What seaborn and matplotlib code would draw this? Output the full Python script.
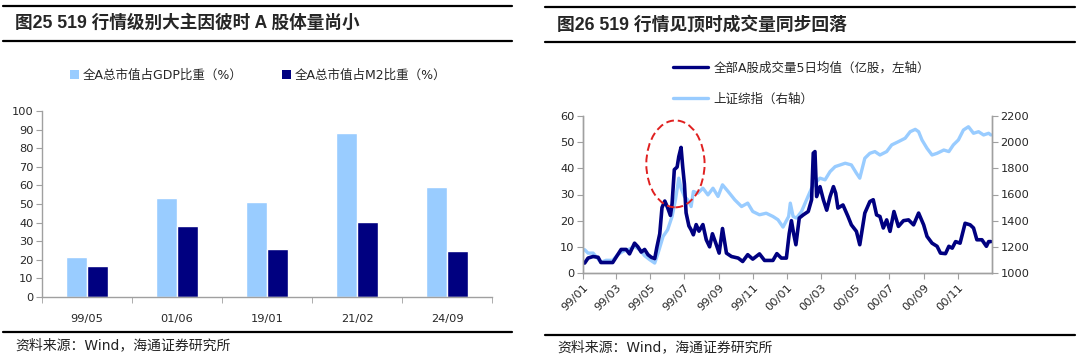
import matplotlib
matplotlib.use("Agg")
import matplotlib.pyplot as plt
import matplotlib.dates as mdates
from matplotlib.lines import Line2D
from matplotlib.patches import Patch, Ellipse
import seaborn as sns
import pandas as pd

# ---------------- data: left chart ----------------
bar_categories = ["99/05", "01/06", "19/01", "21/02", "24/09"]
gdp_ratio = [21.5, 53.3, 51.2, 88.3, 59.2]
m2_ratio = [16.9, 38.4, 25.7, 40.4, 24.6]
bar_series_names = ["全A总市值占GDP比重（%）", "全A总市值占M2比重（%）"]

# ---------------- data: right chart ----------------
vol_dates = [
    "1999-01-04", "1999-01-10", "1999-01-19", "1999-01-28", "1999-02-02", "1999-02-11", "1999-02-23",
    "1999-03-01", "1999-03-10", "1999-03-19", "1999-03-25", "1999-04-03", "1999-04-09", "1999-04-15",
    "1999-04-21", "1999-04-27", "1999-05-03", "1999-05-09", "1999-05-13", "1999-05-18", "1999-05-22",
    "1999-05-27", "1999-06-01", "1999-06-06", "1999-06-09", "1999-06-13", "1999-06-18", "1999-06-21",
    "1999-06-25", "1999-06-28", "1999-07-01", "1999-07-04", "1999-07-09", "1999-07-13", "1999-07-17",
    "1999-07-22", "1999-07-27", "1999-08-03", "1999-08-09", "1999-08-15", "1999-08-20", "1999-08-26",
    "1999-09-01", "1999-09-07", "1999-09-14", "1999-09-23", "1999-10-05", "1999-10-13", "1999-10-22",
    "1999-10-31", "1999-11-12", "1999-11-21", "1999-12-06", "1999-12-13", "1999-12-21", "1999-12-30",
    "2000-01-04", "2000-01-08", "2000-01-12", "2000-01-16", "2000-01-22", "2000-01-29", "2000-02-07",
    "2000-02-13", "2000-02-16", "2000-02-19", "2000-02-22", "2000-02-28", "2000-03-05", "2000-03-11",
    "2000-03-17", "2000-03-23", "2000-03-27", "2000-03-31", "2000-04-09", "2000-04-18", "2000-04-24",
    "2000-05-03", "2000-05-09", "2000-05-18", "2000-05-27", "2000-06-02", "2000-06-08", "2000-06-14",
    "2000-06-20", "2000-06-26", "2000-07-02", "2000-07-09", "2000-07-17", "2000-07-26", "2000-08-04",
    "2000-08-13", "2000-08-22", "2000-08-31", "2000-09-06", "2000-09-15", "2000-09-24", "2000-09-30",
    "2000-10-09", "2000-10-15", "2000-10-21", "2000-10-27", "2000-11-04", "2000-11-13", "2000-11-22",
    "2000-11-28", "2000-12-04", "2000-12-13", "2000-12-21", "2000-12-25", "2000-12-29",
]
vol_values = [
    3.8, 5.7, 6.3, 6.0, 4.0, 4.0, 4.0,
    6.0, 9.0, 9.0, 7.3, 11.4, 10.0, 8.0,
    9.0, 7.0, 6.0, 5.5, 10.0, 15.0, 25.0,
    27.5, 25.0, 22.0, 26.5, 39.5, 40.5, 44.5,
    48.0, 40.5, 34.0, 23.0, 18.0, 16.5, 14.6,
    18.5, 16.0, 18.5, 12.7, 10.0, 15.0, 11.4,
    7.6, 17.0, 7.6, 6.3, 5.7, 4.4, 7.0,
    5.3, 7.3, 4.8, 4.8, 7.4, 5.7, 5.7,
    15.0, 20.0, 15.0, 10.8, 21.0, 22.2, 23.5,
    28.0, 45.8, 46.4, 29.2, 33.0, 28.0, 24.0,
    29.2, 33.0, 30.5, 24.8, 26.0, 21.6, 18.4,
    15.9, 10.8, 22.9, 27.3, 28.0, 22.2, 21.6,
    17.2, 20.3, 15.9, 23.5, 17.8, 20.0, 20.3,
    18.4, 22.9, 18.4, 14.0, 11.4, 10.2, 7.6,
    7.4, 10.2, 9.5, 12.0, 11.4, 19.0, 18.4,
    17.2, 12.7, 12.7, 10.2, 12.0, 12.0,
]

idx_dates = [
    "1999-01-04", "1999-01-10", "1999-01-19", "1999-01-28", "1999-02-02", "1999-02-11", "1999-02-23",
    "1999-03-04", "1999-03-13", "1999-03-25", "1999-04-03", "1999-04-12", "1999-04-21", "1999-04-30",
    "1999-05-09", "1999-05-15", "1999-05-24", "1999-06-01", "1999-06-09", "1999-06-15", "1999-06-21",
    "1999-06-25", "1999-07-01", "1999-07-07", "1999-07-13", "1999-07-17", "1999-07-25", "1999-08-03",
    "1999-08-12", "1999-08-21", "1999-08-30", "1999-09-07", "1999-09-17", "1999-09-29", "1999-10-11",
    "1999-10-22", "1999-10-31", "1999-11-12", "1999-11-24", "1999-12-06", "1999-12-15", "1999-12-24",
    "2000-01-03", "2000-01-06", "2000-01-11", "2000-01-17", "2000-01-26", "2000-02-04", "2000-02-13",
    "2000-02-19", "2000-02-28", "2000-03-08", "2000-03-17", "2000-03-26", "2000-04-04", "2000-04-13",
    "2000-04-24", "2000-05-03", "2000-05-09", "2000-05-18", "2000-05-27", "2000-06-05", "2000-06-14",
    "2000-06-26", "2000-07-05", "2000-07-17", "2000-07-29", "2000-08-07", "2000-08-16", "2000-08-22",
    "2000-08-28", "2000-09-06", "2000-09-15", "2000-09-24", "2000-10-06", "2000-10-15", "2000-10-23",
    "2000-11-01", "2000-11-10", "2000-11-19", "2000-11-28", "2000-12-07", "2000-12-16", "2000-12-25",
    "2000-12-29",
]
idx_values = [
    1178, 1152, 1152, 1107, 1081, 1097, 1097,
    1140, 1165, 1183, 1203, 1178, 1132, 1102,
    1076, 1152, 1280, 1330, 1432, 1559, 1725,
    1648, 1585, 1559, 1508, 1623, 1610, 1648,
    1597, 1648, 1585, 1674, 1623, 1559, 1508,
    1534, 1470, 1445, 1457, 1432, 1407, 1351,
    1432, 1534, 1432, 1420, 1470, 1559, 1648,
    1686, 1725, 1712, 1775, 1813, 1826, 1839,
    1826, 1763, 1725, 1877, 1915, 1928, 1902,
    1928, 1979, 2004, 2030, 2080, 2098, 2080,
    2017, 1953, 1902, 1915, 1940, 1928, 1979,
    2017, 2093, 2118, 2068, 2080, 2055, 2068,
    2055,
]
line_names = ["全部A股成交量5日均值（亿股，左轴）", "上证综指（右轴）"]
left_ticks = [0, 10, 20, 30, 40, 50, 60]
right_ticks = [1000, 1200, 1400, 1600, 1800, 2000, 2200]

titles = ["图25 519 行情级别大主因彼时 A 股体量尚小", "图26 519 行情见顶时成交量同步回落"]
source = "资料来源：Wind，海通证券研究所"

# ---------------- style ----------------
sns.set_style("white")
plt.rcParams["font.family"] = ["DejaVu Sans", "Noto Sans CJK SC"]
plt.rcParams["axes.unicode_minus"] = False
TITLE_FONT = ["Liberation Sans", "Noto Sans CJK SC"]

LIGHT = "#99ccff"
DARK = "#000080"
GRAY = "#a0a0a0"
TICK_FS = 8.2

fig = plt.figure(figsize=(10.8, 3.6), dpi=100)
W, H = 1080.0, 360.0

def fx(px):
    return px / W

def fy(py):
    return 1 - py / H

def hrule(x0, x1, y, lw=1.6):
    fig.add_artist(Line2D([fx(x0), fx(x1)], [fy(y), fy(y)], transform=fig.transFigure,
                          color="black", lw=lw))

# ---------------- left chart ----------------
axL = fig.add_axes([fx(42), fy(297), fx(492) - fx(42), fy(111) - fy(297)])
df_bar = pd.DataFrame({
    "cat": bar_categories * 2,
    "val": gdp_ratio + m2_ratio,
    "series": [bar_series_names[0]] * len(bar_categories) + [bar_series_names[1]] * len(bar_categories),
})
sns.barplot(data=df_bar, x="cat", y="val", hue="series", palette=[LIGHT, DARK],
            width=0.475, ax=axL, legend=False, saturation=1)
axL.set_xlim(-0.5, len(bar_categories) - 0.5)
axL.set_ylim(0, 100)
axL.set_yticks(range(0, 101, 10))
axL.set_xlabel("")
axL.set_ylabel("")
axL.set_xticks([i + 0.5 for i in range(-1, len(bar_categories))], minor=True)
axL.tick_params(axis="x", which="major", length=0, labelsize=TICK_FS, pad=12)
axL.tick_params(axis="x", which="minor", length=4, color=GRAY, direction="out", bottom=True)
axL.tick_params(axis="y", length=4, color=GRAY, direction="out", left=True, labelsize=TICK_FS, pad=2)
for s in ["top", "right"]:
    axL.spines[s].set_visible(False)
for s in ["left", "bottom"]:
    axL.spines[s].set_color(GRAY)
    axL.spines[s].set_linewidth(1)

handlesL = [Patch(facecolor=LIGHT, edgecolor="none"), Patch(facecolor=DARK, edgecolor="none")]
fig.legend(handlesL, bar_series_names, loc="center", bbox_to_anchor=(fx(258), fy(75)),
           ncol=2, frameon=False, fontsize=9, handlelength=0.7, handleheight=0.7,
           handletextpad=0.3, columnspacing=3.2)

# ---------------- right chart ----------------
axR = fig.add_axes([fx(583), fy(273), fx(992) - fx(583), fy(116) - fy(273)])
axR2 = axR.twinx()
df_vol = pd.DataFrame({"date": pd.to_datetime(vol_dates), "val": vol_values})
df_idx = pd.DataFrame({"date": pd.to_datetime(idx_dates), "val": idx_values})
sns.lineplot(data=df_idx, x="date", y="val", ax=axR2, color=LIGHT, lw=2.4)
sns.lineplot(data=df_vol, x="date", y="val", ax=axR, color=DARK, lw=2.6)
axR.set_zorder(axR2.get_zorder() + 1)
axR.patch.set_visible(False)

xmin, xmax = pd.Timestamp("1999-01-01"), pd.Timestamp("2000-12-31")
axR.set_xlim(xmin, xmax)
axR.set_ylim(0, 60)
axR.set_yticks(left_ticks)
axR2.set_ylim(1000, 2200)
axR2.set_yticks(right_ticks)
for a in (axR, axR2):
    a.set_xlabel("")
    a.set_ylabel("")
axR.xaxis.set_major_locator(mdates.MonthLocator(bymonth=[1, 3, 5, 7, 9, 11]))
axR.xaxis.set_major_formatter(mdates.DateFormatter("%y/%m"))
plt.setp(axR.get_xticklabels(), rotation=45, ha="right", rotation_mode="anchor")
axR.tick_params(axis="x", length=4, color=GRAY, direction="out", bottom=True, labelsize=TICK_FS, pad=3)
axR.tick_params(axis="y", length=4, color=GRAY, direction="out", left=True, labelsize=TICK_FS, pad=2)
axR2.tick_params(axis="y", length=4, color=GRAY, direction="out", right=True, labelsize=TICK_FS, pad=2)
for a in (axR, axR2):
    a.spines["top"].set_visible(False)
    for s in ["left", "right", "bottom"]:
        a.spines[s].set_color(GRAY)
        a.spines[s].set_linewidth(1)

ell = Ellipse((mdates.date2num(pd.Timestamp("1999-06-15")), 41.7), width=104, height=33.2,
              fill=False, edgecolor="#e02020", ls=(0, (4, 2)), lw=1.4, zorder=5)
axR.add_patch(ell)

handlesR = [Line2D([], [], color=DARK, lw=2.4), Line2D([], [], color=LIGHT, lw=2.4)]
fig.legend(handlesR, line_names, loc="upper left", bbox_to_anchor=(fx(667), fy(55)),
           frameon=False, fontsize=9, handlelength=2.8, handletextpad=0.4,
           labelspacing=1.45, borderpad=0)

# ---------------- titles, rules, sources ----------------
hrule(3, 512, 6)
hrule(3, 512, 41)
hrule(3, 512, 332)
hrule(545, 1075, 7)
hrule(545, 1075, 42)
hrule(545, 1075, 335)

fig.text(fx(15), fy(23), titles[0], fontsize=12.7, fontweight="bold", va="center", ha="left",
         family=TITLE_FONT)
fig.text(fx(557), fy(25), titles[1], fontsize=12.8, fontweight="bold", va="center", ha="left",
         family=TITLE_FONT)
fig.text(fx(15), fy(345), source, fontsize=10, va="center", ha="left", color="#222222")
fig.text(fx(557), fy(347), source, fontsize=10, va="center", ha="left", color="#222222")

fig.savefig("out.png", dpi=100, facecolor="white")
